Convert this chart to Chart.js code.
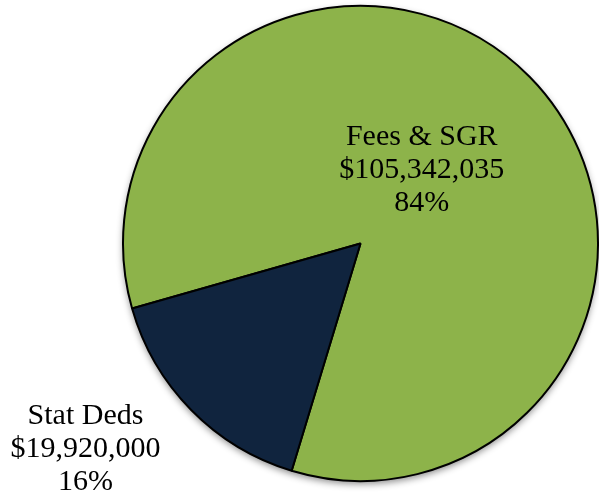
<!DOCTYPE html>
<html>
<head>
<meta charset="utf-8">
<script src="https://cdn.jsdelivr.net/npm/chart.js@4/dist/chart.umd.min.js"></script>
<style>
html,body{margin:0;padding:0;background:#fff;}
#wrap{width:599px;height:496px;position:relative;}
</style>
</head>
<body>
<div id="wrap"><canvas id="c" width="599" height="496"></canvas></div>
<script>
const categories = ["Fees & SGR", "Stat Deds"];
const amounts = [105342035, 19920000];
const amountLabels = ["$105,342,035", "$19,920,000"];
const percentLabels = ["84%", "16%"];
const sliceColors = ["#8db34a", "#10243e"];

// label anchor, in units of the pie radius relative to its centre
const labelAnchors = [[0.258, -0.311], [-1.158, 0.866]];

const shadowPlugin = {
  id: 'pieShadow',
  beforeDatasetsDraw(chart) {
    const arc = chart.getDatasetMeta(0).data[0];
    if (!arc) return;
    const ctx = chart.ctx;
    ctx.save();
    ctx.shadowColor = 'rgba(0,0,0,0.45)';
    ctx.shadowBlur = 7;
    ctx.shadowOffsetX = 0;
    ctx.shadowOffsetY = 3;
    ctx.fillStyle = '#ffffff';
    ctx.beginPath();
    ctx.arc(arc.x, arc.y, arc.outerRadius, 0, Math.PI * 2);
    ctx.fill();
    ctx.restore();
  }
};

const labelPlugin = {
  id: 'sliceLabels',
  afterDatasetsDraw(chart) {
    const meta = chart.getDatasetMeta(0);
    const ctx = chart.ctx;
    ctx.save();
    ctx.font = '30px "Liberation Serif", "Times New Roman", serif';
    ctx.fillStyle = '#000';
    ctx.textAlign = 'center';
    ctx.textBaseline = 'middle';
    const lh = 33;
    meta.data.forEach((arc, i) => {
      const R = arc.outerRadius;
      const cx = arc.x + labelAnchors[i][0] * R;
      const cy = arc.y + labelAnchors[i][1] * R;
      const lines = [categories[i], amountLabels[i], percentLabels[i]];
      lines.forEach((t, j) => ctx.fillText(t, cx, cy + (j - 1) * lh));
    });
    ctx.restore();
  }
};

new Chart(document.getElementById('c'), {
  type: 'pie',
  data: {
    labels: categories,
    datasets: [{
      data: amounts,
      backgroundColor: sliceColors,
      borderColor: '#000000',
      borderWidth: 2,
      hoverOffset: 0
    }]
  },
  options: {
    responsive: false,
    animation: false,
    rotation: -105.9,
    layout: { padding: { left: 122, right: 0, top: 5, bottom: 14 } },
    plugins: {
      legend: { display: false },
      tooltip: { enabled: false }
    }
  },
  plugins: [shadowPlugin, labelPlugin]
});
</script>
</body>
</html>
